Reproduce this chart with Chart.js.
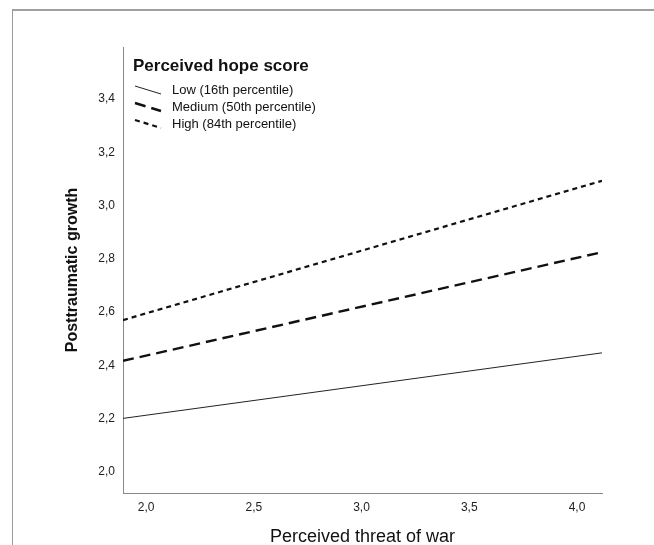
<!DOCTYPE html>
<html>
<head>
<meta charset="utf-8">
<script src="https://cdn.jsdelivr.net/npm/chart.js@4"></script>
<style>
    html, body { margin: 0; padding: 0; background: #fff; overflow: hidden; }
    #frame { position: absolute; left: 12px; top: 9px; width: 700px; height: 600px; border-left: 1px solid #999; border-top: 2px solid #a0a0a0; }
    #wrap { position: absolute; left: 0; top: 0; width: 654px; height: 560px; }
</style>
</head>
<body>
<div id="frame"></div>
<div id="wrap"><canvas id="chart"></canvas></div>
<script>
// Values
const threatX = [1.893, 4.116];
const lowGrowth = [2.201, 2.447];
const mediumGrowth = [2.417, 2.825];
const highGrowth = [2.570, 3.093];
const seriesLabels = ['Low (16th percentile)', 'Medium (50th percentile)', 'High (84th percentile)'];
const legendTitle = 'Perceived hope score';
const xTicks = [2.0, 2.5, 3.0, 3.5, 4.0];
const yTicks = [2.0, 2.2, 2.4, 2.6, 2.8, 3.0, 3.2, 3.4];
const xRange = [1.893, 4.116];
const yRange = [1.921, 3.595];

const FONT = '"Liberation Sans", Arial, sans-serif';

// Helper: pair x values with a series
function toPoints(values) {
    return values.map((v, i) => ({ x: threatX[i], y: v }));
}

function formatComma(v) {
    return v.toFixed(1).replace('.', ',');
}

// Legend drawn inside the plot, SPSS style with slanted samples
const hopeLegend = {
    id: 'hopeLegend',
    afterDraw(chart) {
        const { ctx, chartArea } = chart;
        const x0 = chartArea.left + 10;
        ctx.save();
        ctx.fillStyle = '#111';
        ctx.textBaseline = 'middle';
        ctx.font = 'bold 17px ' + FONT;
        ctx.fillText(legendTitle, x0, chartArea.top + 19);
        ctx.font = '13px ' + FONT;
        chart.data.datasets.forEach((ds, i) => {
            const y = chartArea.top + 43 + i * 17;
            ctx.beginPath();
            ctx.setLineDash(ds.borderDash || []);
            ctx.lineWidth = ds.borderWidth;
            ctx.strokeStyle = ds.borderColor;
            ctx.moveTo(x0 + 2, y - 4);
            ctx.lineTo(x0 + 28, y + 4);
            ctx.stroke();
            ctx.setLineDash([]);
            ctx.fillText(ds.label, x0 + 39, y);
        });
        ctx.restore();
    }
};

new Chart(document.getElementById('chart'), {
    type: 'line',
    data: {
        datasets: [
            { label: seriesLabels[0], data: toPoints(lowGrowth), borderColor: '#222', borderWidth: 1, borderDash: [] },
            { label: seriesLabels[1], data: toPoints(mediumGrowth), borderColor: '#111', borderWidth: 2.4, borderDash: [11, 6] },
            { label: seriesLabels[2], data: toPoints(highGrowth), borderColor: '#111', borderWidth: 2.2, borderDash: [5, 4] }
        ]
    },
    options: {
        responsive: true,
        maintainAspectRatio: false,
        animation: false,
        layout: { padding: { left: 55, top: 47, right: 52, bottom: 12 } },
        elements: { point: { radius: 0 }, line: { tension: 0 } },
        plugins: { legend: { display: false }, tooltip: { enabled: false } },
        scales: {
            x: {
                type: 'linear',
                min: xRange[0],
                max: xRange[1],
                afterBuildTicks: axis => { axis.ticks = xTicks.map(value => ({ value })); },
                afterFit: axis => { axis.height = 55; },
                grid: { display: false, drawTicks: false },
                border: { display: true, color: '#888', width: 1 },
                ticks: { padding: 7, color: '#222', font: { family: FONT, size: 12 }, callback: v => formatComma(v), maxRotation: 0 },
                title: { display: true, text: 'Perceived threat of war', color: '#111', font: { family: FONT, size: 18 }, padding: { top: 0, bottom: 0 } }
            },
            y: {
                min: yRange[0],
                max: yRange[1],
                afterBuildTicks: axis => { axis.ticks = yTicks.map(value => ({ value })); },
                afterFit: axis => { axis.width = 68; },
                grid: { display: false, drawTicks: false },
                border: { display: true, color: '#888', width: 1 },
                ticks: { padding: 8, color: '#222', font: { family: FONT, size: 12 }, callback: v => formatComma(v) },
                title: { display: true, text: 'Posttraumatic growth', color: '#111', font: { family: FONT, size: 16, weight: 'bold' }, padding: { top: 8, bottom: 0 } }
            }
        }
    },
    plugins: [hopeLegend]
});
</script>
</body>
</html>
